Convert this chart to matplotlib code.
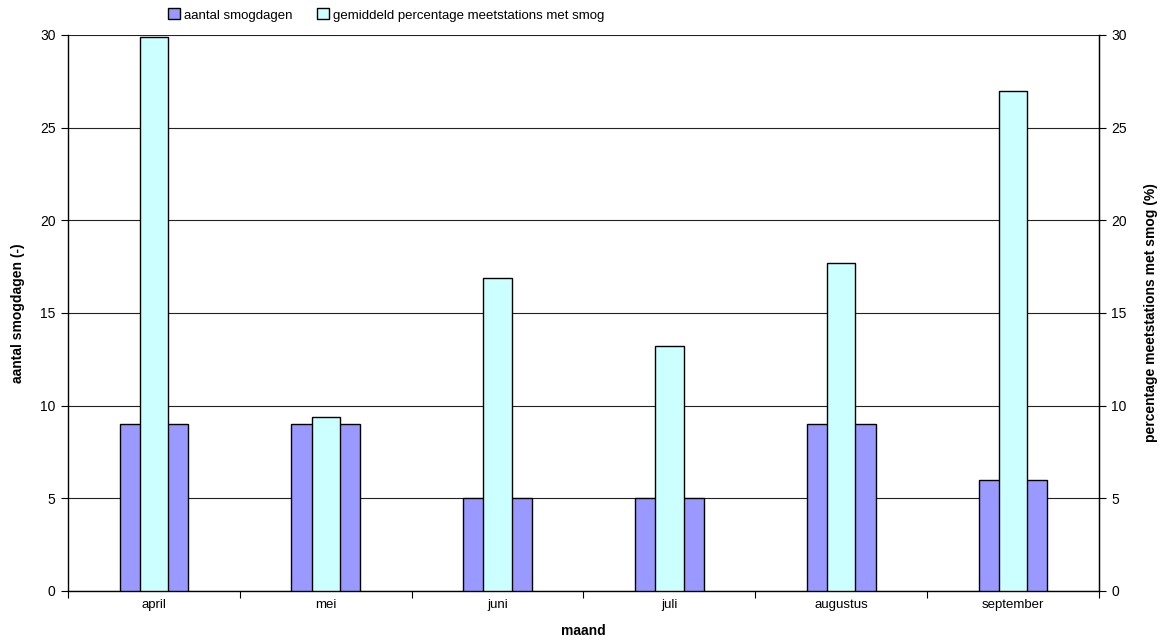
import numpy as np
import matplotlib
matplotlib.use("Agg")
import matplotlib.pyplot as plt
from matplotlib.patches import Patch

plt.rcParams['font.family'] = ['Liberation Sans', 'DejaVu Sans']

maanden = ["april", "mei", "juni", "juli", "augustus", "september"]
smogdagen = [9, 9, 5, 5, 9, 6]
percentage = [29.9, 9.4, 16.9, 13.2, 17.7, 27.0]

paars = "#9999FF"
cyaan = "#CCFFFF"

fig = plt.figure(figsize=(11.65, 6.4), dpi=100)
W, H = 1165.0, 640.0
ax = fig.add_axes([68 / W, (H - 591) / H, (1099 - 68) / W, (591 - 35) / H])
ax2 = ax.twinx()

x = np.arange(len(maanden))
ax.bar(x, smogdagen, width=0.4, color=paars, edgecolor="black", linewidth=1.0, zorder=3)
ax2.bar(x, percentage, width=0.165, color=cyaan, edgecolor="black", linewidth=1.0, zorder=3)

for a in (ax, ax2):
    a.set_ylim(0, 30)
    a.set_yticks(range(0, 31, 5))
    a.set_xlim(-0.5, len(maanden) - 0.5)
    a.spines['top'].set_visible(False)
    a.tick_params(axis='y', direction='out', length=5, width=0.8, labelsize=10, pad=4)

ax.yaxis.grid(True, color="#222222", linewidth=0.8, zorder=0)
ax.set_axisbelow(True)
ax.spines['left'].set_linewidth(1.0)
ax.spines['bottom'].set_linewidth(1.0)
ax2.spines['right'].set_linewidth(1.0)
ax2.spines['left'].set_visible(False)
ax2.spines['bottom'].set_visible(False)

# tick marks between categories, labels at the centres
ax.set_xticks(np.arange(len(maanden) + 1) - 0.5)
ax.set_xticklabels([])
ax.set_xticks(x, minor=True)
ax.set_xticklabels(maanden, minor=True)
ax.tick_params(axis='x', which='major', direction='out', length=5, width=0.8)
ax.tick_params(axis='x', which='minor', length=0, labelsize=9.5, pad=6)

ax.set_xlabel("maand", fontsize=10, fontweight="bold", labelpad=9)
ax.set_ylabel("aantal smogdagen (-)", fontsize=10, fontweight="bold", labelpad=11)
ax2.set_ylabel("percentage meetstations met smog (%)", fontsize=10, fontweight="bold", labelpad=12)

handles = [Patch(facecolor=paars, edgecolor="black", linewidth=1.0),
           Patch(facecolor=cyaan, edgecolor="black", linewidth=1.0)]
fig.legend(handles, ["aantal smogdagen", "gemiddeld percentage meetstations met smog"],
           loc="center left", bbox_to_anchor=(168 / W, 1 - 15 / H), ncol=2, frameon=False,
           fontsize=9.5, handlelength=0.9, handleheight=0.9, handletextpad=0.3,
           columnspacing=1.9, borderpad=0, borderaxespad=0)

fig.savefig("out.png", dpi=100)
